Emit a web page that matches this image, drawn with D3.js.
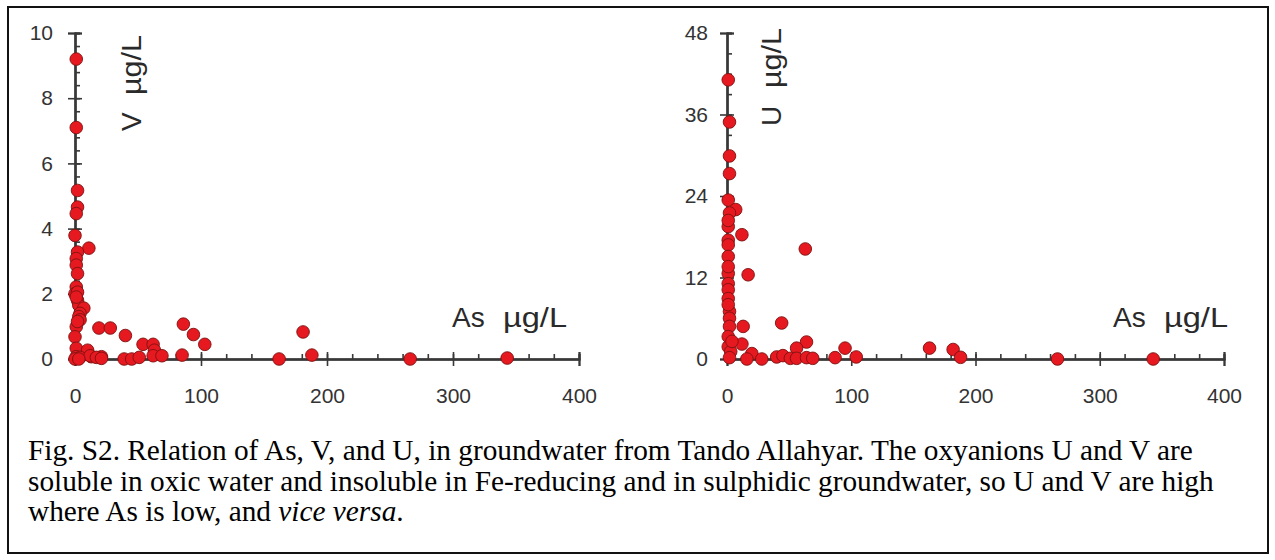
<!DOCTYPE html>
<html>
<head>
<meta charset="utf-8">
<script src="https://cdn.jsdelivr.net/npm/d3@7"></script>
<style>
  html, body { margin: 0; padding: 0; background: #fff; }
  svg { display: block; }
</style>
</head>
<body>
<svg id="fig" width="1275" height="560"></svg>
<script>
// As (µg/L) vs V (µg/L)
const vAs  = [1, 1, 2, 2, 1, 0, 11, 2, 1, 1, 2, 1, 0, 2, 3, 7, 4, 3, 1, 0, 1, 1, 10, 13, 21, 4, 12, 17, 21, 0, 3,
              19, 28, 40, 39, 45, 51, 54, 62, 63, 62, 69, 85, 86, 94, 103, 162, 181, 188, 266, 343, 2, 1, 4, 2];
const vVal = [9.2, 7.1, 5.17, 4.66, 4.46, 3.79, 3.4, 3.28, 3.08, 2.88, 2.62, 2.21, 2.0, 1.8, 1.65, 1.56, 1.4, 1.3, 0.99, 0.68, 0.33, 0.07, 0.27, 0.07, 0.07, 0.05, 0.1, 0.05, 0.02, 0.0, 0.0,
              0.95, 0.95, 0.72, 0.0, 0.0, 0.05, 0.45, 0.45, 0.27, 0.1, 0.1, 0.12, 1.07, 0.75, 0.45, 0.0, 0.83, 0.12, 0.0, 0.03, 2.05, 1.9, 1.2, 1.15];

// As (µg/L) vs U (µg/L)
const uAs  = [1, 2, 2, 2, 1, 7, 2, 1, 12, 1, 1, 1, 63, 17, 1, 1, 1, 1, 2, 2, 2, 13, 1, 12, 1, 3, 2,
              44, 64, 56, 20, 16, 28, 40, 45, 51, 56, 64, 69, 87, 95, 104, 163, 182, 188, 266, 343, 1, 1, 1, 4];
const uVal = [41.1, 34.9, 29.9, 27.3, 23.4, 22.0, 21.5, 19.5, 18.3, 17.5, 16.8, 15.1, 16.2, 12.4, 12.6, 11.1, 10.2, 8.9, 7.0, 6.0, 4.8, 4.8, 3.3, 2.2, 1.8, 1.1, 0.2,
              5.3, 2.5, 1.6, 0.8, 0.0, 0.0, 0.3, 0.5, 0.1, 0.1, 0.2, 0.1, 0.2, 1.6, 0.3, 1.6, 1.4, 0.25, 0.0, 0.0, 20.4, 13.6, 8.0, 2.6];

const asTicks = [0, 100, 200, 300, 400];
const vTicks  = [0, 2, 4, 6, 8, 10];
const uTicks  = [0, 12, 24, 36, 48];

const captionLines = [
  [{t: "Fig. S2. Relation of As, V, and U, in groundwater from Tando Allahyar. The oxyanions U and V are"}],
  [{t: "soluble in oxic water and insoluble in Fe-reducing and in sulphidic groundwater, so U and V are high"}],
  [{t: "where As is low, and "}, {t: "vice versa", i: true}, {t: "."}]
];

const svg = d3.select("#fig");
const axisColor = "#383838";
const labelColor = "#333";
const sans = "Arial, 'Liberation Sans', sans-serif";

// outer frame
svg.append("rect")
  .attr("x", 8).attr("y", 7).attr("width", 1260).attr("height", 546)
  .attr("fill", "none").attr("stroke", "#111").attr("stroke-width", 2);

function panel(opts) {
  const x = d3.scaleLinear().domain([0, 400]).range(opts.xr);
  const y = d3.scaleLinear().domain([0, opts.yMax]).range([359, 33]);
  const g = svg.append("g");

  // x axis: minor ticks inside, major ticks crossing the line
  const xAxis = g.append("g").attr("transform", `translate(0,${y(0)})`);
  xAxis.call(d3.axisTop(x).tickValues(d3.range(0, 401, 20)).tickSize(5).tickFormat(""));
  xAxis.append("g").call(d3.axisTop(x).tickValues(asTicks).tickSize(7).tickFormat(""));
  xAxis.append("g").call(d3.axisBottom(x).tickValues(asTicks).tickSize(7).tickPadding(22).tickFormat(d3.format("d")));

  // y axis
  const yAxis = g.append("g").attr("transform", `translate(${x(0)},0)`);
  yAxis.call(d3.axisRight(y).tickValues(d3.range(0, opts.yMax + 0.001, opts.yMinor)).tickSize(5).tickFormat(""));
  yAxis.append("g").call(d3.axisRight(y).tickValues(opts.yTicks).tickSize(7).tickFormat(""));
  yAxis.append("g").call(d3.axisLeft(y).tickValues(opts.yTicks).tickSize(7).tickPadding(opts.yPad).tickFormat(d3.format("d")));

  g.selectAll(".domain").attr("stroke", axisColor).attr("stroke-width", 2);
  g.selectAll(".tick line").attr("stroke", axisColor).attr("stroke-width", 1.6);
  g.selectAll(".tick text").attr("fill", labelColor).style("font-family", sans).style("font-size", "21px");

  // x axis title
  const tf = t => t.attr("fill", "#2a2a2a").style("font-family", sans).style("font-size", "28px");
  g.append("text").attr("x", opts.xt).attr("y", 327).text("As").call(tf);
  g.append("text").attr("x", opts.xt + 51).attr("y", 327).text("µg/L").call(tf)
    .attr("textLength", 64).attr("lengthAdjust", "spacingAndGlyphs");

  // y axis title, reading upward
  const yt = g.append("g").attr("transform", `translate(${opts.yt},${opts.ytBottom}) rotate(-90)`);
  yt.append("text").attr("x", 0).attr("y", 0).text(opts.el).call(tf);
  yt.append("text").attr("x", opts.ytGap).attr("y", 0).text("µg/L").call(tf)
    .attr("textLength", 60).attr("lengthAdjust", "spacingAndGlyphs");

  // samples
  g.append("g").selectAll("circle")
    .data(opts.xs.map((v, i) => [v, opts.ys[i]]))
    .join("circle")
    .attr("cx", d => x(d[0]))
    .attr("cy", d => y(d[1]))
    .attr("r", 6.3)
    .attr("fill", "#e5191f")
    .attr("stroke", "#7d1212")
    .attr("stroke-width", 0.9);
}

panel({ xr: [75, 579], yMax: 10, yMinor: 0.4, yTicks: vTicks, yPad: 15,
        xs: vAs, ys: vVal, el: "V", xt: 452, yt: 141, ytBottom: 131, ytGap: 36 });
panel({ xr: [727, 1224], yMax: 48, yMinor: 3, yTicks: uTicks, yPad: 12,
        xs: uAs, ys: uVal, el: "U", xt: 1113, yt: 781, ytBottom: 126, ytGap: 38 });

// caption, line one spanning the text block width
const cap = svg.append("g")
  .style("font-family", "'Liberation Serif', 'Times New Roman', serif")
  .attr("fill", "#000");
const baselines = [460, 491, 521];
const texts = captionLines.map((parts, i) => {
  const t = cap.append("text").attr("x", 28).attr("y", baselines[i]).style("font-size", "22px");
  parts.forEach(p => t.append("tspan").text(p.t).style("font-style", p.i ? "italic" : null));
  return t;
});
const w = texts[0].node().getComputedTextLength();
const fs = 22 * 1165 / w;
texts.forEach(t => t.style("font-size", fs.toFixed(2) + "px"));
</script>
</body>
</html>
